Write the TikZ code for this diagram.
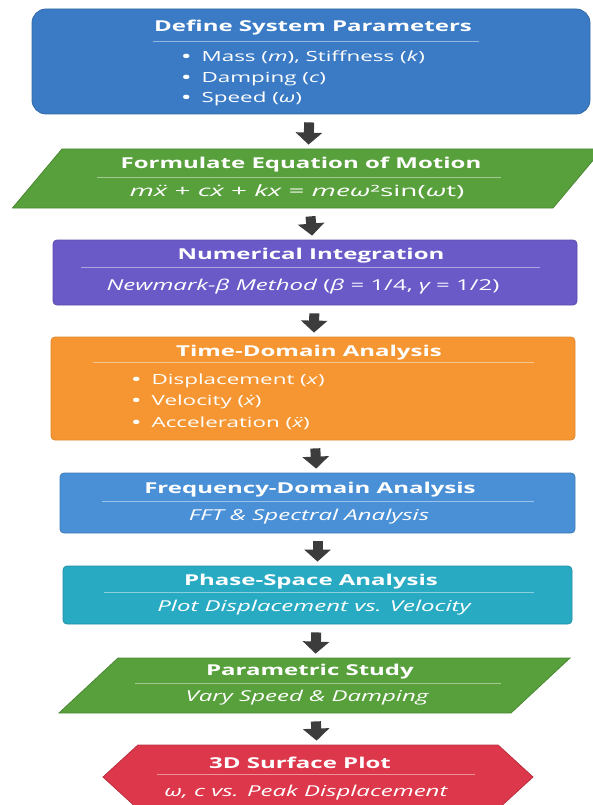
\documentclass[tikz,border=0pt]{standalone}
\usepackage{fontspec}
\newfontfamily\flowfont{Open Sans}[FakeStretch=1.6]
\newfontfamily\eqfont{Open Sans}[FakeStretch=1.8]
\usetikzlibrary{shapes.geometric,shapes.symbols,arrows.meta}
\definecolor{defblue}{HTML}{3B7BC5}
\definecolor{motgreen}{HTML}{58A03C}
\definecolor{intpurple}{HTML}{6A5AC8}
\definecolor{timeorange}{HTML}{F59632}
\definecolor{freqblue}{HTML}{4A90D6}
\definecolor{phaseteal}{HTML}{28AAC3}
\definecolor{surfred}{HTML}{DC374B}
\definecolor{arrowgray}{HTML}{3C3C3C}
\newcommand\bul{{\bfseries•}\hspace{11pt}}
\begin{document}
\begin{tikzpicture}[x=1pt,y=-1pt,
  stagebox/.style={rectangle, rounded corners=4pt, inner sep=0pt, line width=0.8pt},
  parbox/.style={trapezium, minimum width=0pt, minimum height=0pt, line width=0.8pt},
  hexbox/.style={signal, signal to=west and east, signal pointer angle=85, inner sep=4pt, line width=0.8pt},
  titletext/.style={text=white, font=\flowfont\bfseries\fontsize{15}{18}\selectfont, inner sep=0pt},
  subtext/.style={text=white, font=\flowfont\itshape\fontsize{15}{18}\selectfont, inner sep=0pt},
  eqtext/.style={text=white, font=\eqfont\itshape\fontsize{15.5}{18}\selectfont, inner sep=0pt},
  itemtext/.style={text=white, font=\flowfont\fontsize{14}{17}\selectfont, inner sep=0pt, anchor=west},
  titlerule/.style={draw=white, draw opacity=0.45, line width=0.8pt},
  flowarrow/.style={draw=arrowgray, line width=10pt, -{Triangle[width=26pt,length=12pt]}, shorten <=8pt, shorten >=4pt}]

\useasboundingbox (0,0) rectangle (593,805);

\node[stagebox, rounded corners=14pt, fill=defblue, draw=defblue!85!black, minimum width=558, minimum height=105] (define) at (311,61.5) {};
\node[parbox, trapezium left angle=50, trapezium right angle=130, inner xsep=245.5pt, inner ysep=29.5pt, fill=motgreen, draw=motgreen!85!black] (motion) at (307.5,178.5) {};
\node[stagebox, fill=intpurple, draw=intpurple!85!black, minimum width=524, minimum height=65] (integr) at (315,272.5) {};
\node[stagebox, fill=timeorange, draw=timeorange!90!black, minimum width=524, minimum height=103] (timedom) at (313,388.5) {};
\node[stagebox, fill=freqblue, draw=freqblue!85!black, minimum width=515, minimum height=60] (freq) at (317.5,503) {};
\node[stagebox, fill=phaseteal, draw=phaseteal!85!black, minimum width=509, minimum height=58] (phase) at (317.5,595) {};
\node[parbox, trapezium left angle=43, trapezium right angle=137, inner xsep=196.5pt, inner ysep=27.5pt, fill=motgreen, draw=motgreen!85!black] (param) at (314.5,685.5) {};
\node[hexbox, fill=surfred, draw=surfred!85!black, minimum width=430, minimum height=64] (surface) at (318,777) {};

\draw[flowarrow] (define) -- (motion);
\draw[flowarrow] (motion) -- (integr);
\draw[flowarrow] (integr) -- (timedom);
\draw[flowarrow] (timedom) -- (freq);
\draw[flowarrow] (freq) -- (phase);
\draw[flowarrow] (phase) -- (param);
\draw[flowarrow] (param) -- (surface);

\node[titletext] (defineT) at (313,28) {Define System Parameters};
\draw[titlerule] (153,41) -- (479,41);
\node[itemtext] (defineA) at (182,57) {\bul Mass (\textit{m}), Stiffness (\textit{k})};
\node[itemtext] (defineB) at (182,79) {\bul Damping (\textit{c})};
\node[itemtext] (defineC) at (182,99) {\bul Speed (\textit{ω})};

\node[titletext] (motionT) at (301,165) {Formulate Equation of Motion};
\draw[titlerule] (97,177) -- (501,177);
\node[eqtext] (motionS) at (297,192) {m\"x \upshape+ \itshape c\.x \upshape+ \itshape kx \upshape= \itshape meω\upshape²sin(\itshape ω\upshape t)};

\node[titletext] (integrT) at (311,256) {Numerical Integration};
\draw[titlerule] (81,267) -- (540,267);
\node[subtext] (integrS) at (303,287) {Newmark-β Method \upshape(\itshape β \upshape= 1/4, \itshape γ \upshape= 1/2)};

\node[titletext] (timedomT) at (309,353) {Time-Domain Analysis};
\draw[titlerule] (93,362) -- (534,362);
\node[itemtext] (timedomA) at (132,381) {\bul Displacement (\textit{x})};
\node[itemtext] (timedomB) at (132,402) {\bul Velocity ({\itshape\.x})};
\node[itemtext] (timedomC) at (132,423) {\bul Acceleration ({\itshape\"x})};

\node[titletext] (freqT) at (310,490) {Frequency-Domain Analysis};
\draw[titlerule] (102,501) -- (534,501);
\node[subtext] (freqS) at (309,517) {FFT \& Spectral Analysis};

\node[titletext] (phaseT) at (311,582) {Phase-Space Analysis};
\draw[titlerule] (104,592) -- (534,592);
\node[subtext] (phaseS) at (314,608) {Plot Displacement vs. Velocity};

\node[titletext] (paramT) at (310,672) {Parametric Study};
\draw[titlerule] (135,683) -- (501,683);
\node[subtext] (paramS) at (307,698) {Vary Speed \& Damping};

\node[titletext] (surfaceT) at (300,763) {3D Surface Plot};
\draw[titlerule] (157,774) -- (475,774);
\node[subtext] (surfaceS) at (306,793) {ω, c vs. Peak Displacement};
\end{tikzpicture}
\end{document}
